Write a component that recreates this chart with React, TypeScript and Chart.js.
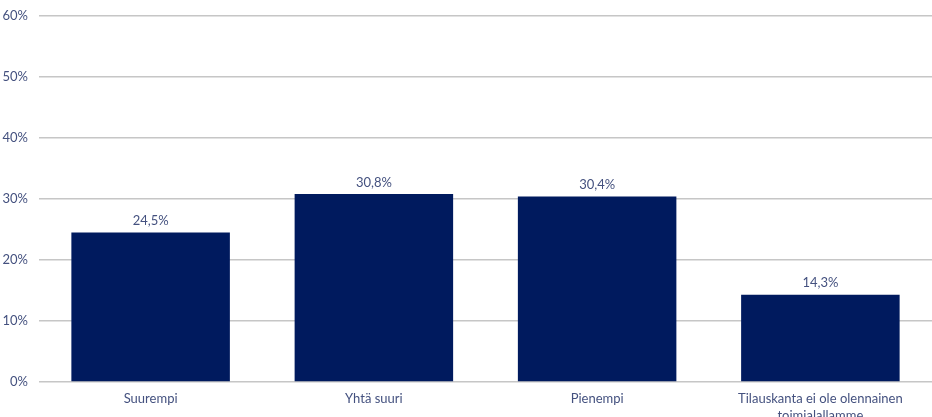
import React, { useEffect, useRef } from "react";
import { Chart, registerables } from "chart.js";

Chart.register(...registerables);

const categories: (string | string[])[] = [
  "Suurempi",
  "Yhtä suuri",
  "Pienempi",
  ["Tilauskanta ei ole olennainen", "toimialallamme"],
];
const shares = [24.5, 30.8, 30.4, 14.3];
const yTicks = [0, 10, 20, 30, 40, 50, 60];

const BAR_COLOR = "#001A5E";
const TEXT_COLOR = "#44517F";
const GRID_COLOR = "#C6C6C6";
const FONT_FAMILY = "Lato, 'Noto Sans', sans-serif";

const fmt = (v: number) => v.toFixed(1).replace(".", ",") + "%";

const valueLabels = {
  id: "valueLabels",
  afterDatasetsDraw(chart: Chart) {
    const ctx = chart.ctx;
    const meta = chart.getDatasetMeta(0);
    ctx.save();
    ctx.fillStyle = TEXT_COLOR;
    ctx.font = `13px ${FONT_FAMILY}`;
    ctx.textAlign = "center";
    ctx.textBaseline = "bottom";
    meta.data.forEach((el: any, i: number) => {
      ctx.fillText(fmt(shares[i]), el.x, el.y - 5);
    });
    ctx.restore();
  },
};

export default function App() {
  const ref = useRef<HTMLCanvasElement | null>(null);

  useEffect(() => {
    document.body.style.margin = "0";
    const canvas = ref.current;
    if (!canvas) return;
    const chart = new Chart(canvas, {
      type: "bar",
      data: {
        labels: categories,
        datasets: [
          {
            data: shares,
            backgroundColor: BAR_COLOR,
            categoryPercentage: 0.71,
            barPercentage: 1,
          },
        ],
      },
      options: {
        responsive: false,
        animation: false,
        layout: { padding: { top: 16, right: 0, left: 0, bottom: 0 } },
        plugins: {
          legend: { display: false },
          tooltip: { enabled: false },
        },
        scales: {
          x: {
            grid: { display: false },
            border: { display: false },
            ticks: {
              color: TEXT_COLOR,
              font: { family: FONT_FAMILY, size: 13, lineHeight: 1.3 },
              padding: 0,
              maxRotation: 0,
              autoSkip: false,
            },
            afterFit: (scale: any) => {
              scale.height = 35;
            },
          },
          y: {
            min: 0,
            max: 60,
            afterBuildTicks: (scale: any) => {
              scale.ticks = yTicks.map((v) => ({ value: v }));
            },
            grid: { color: GRID_COLOR, lineWidth: 1.5, drawTicks: false },
            border: { display: false },
            ticks: {
              color: TEXT_COLOR,
              font: { family: FONT_FAMILY, size: 13 },
              padding: 11,
              callback: (v: any) => `${v}%`,
            },
            afterFit: (scale: any) => {
              scale.width = 39;
              scale.paddingTop = 0;
              scale.paddingBottom = 0;
            },
          },
        },
      },
      plugins: [valueLabels],
    });
    return () => chart.destroy();
  }, []);

  return <canvas ref={ref} width={932} height={417} style={{ display: "block" }} />;
}
